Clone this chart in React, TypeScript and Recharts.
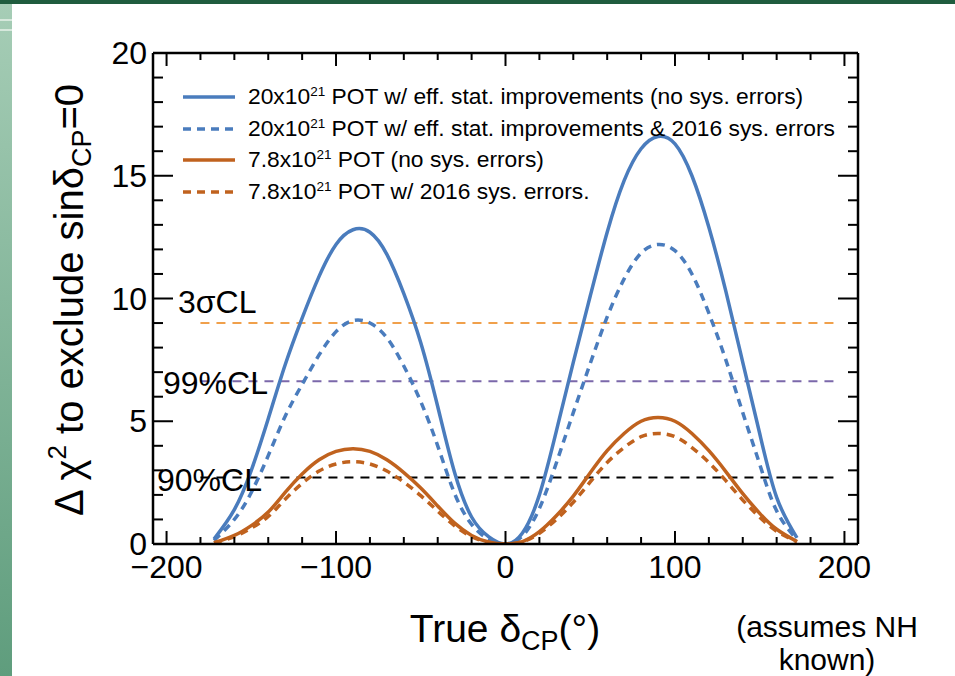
import React from 'react';
import { LineChart, Line, XAxis, YAxis, Legend } from 'recharts';

// true delta_CP (degrees)
const deltaCP = [-172, -160, -150, -140, -130, -120, -110, -100, -90, -80, -70, -60, -50, -40, -30, -20, -10, 0, 10, 20, 30, 40, 50, 60, 70, 80, 90, 100, 110, 120, 130, 140, 150, 160, 172];

// delta chi^2 to exclude sin(delta_CP)=0
const pot20NoSys = [0.2, 1.4, 3.0, 5.1, 7.3, 9.2, 10.9, 12.2, 12.8, 12.7, 11.8, 10.2, 8.2, 5.6, 2.9, 1.1, 0.3, 0, 0.45, 2.0, 4.6, 7.4, 10.1, 12.7, 14.8, 16.1, 16.6, 16.3, 15.0, 12.9, 10.3, 7.4, 4.5, 1.9, 0.25];
const pot20Sys2016 = [0.14, 1.0, 2.1, 3.6, 5.2, 6.5, 7.7, 8.65, 9.1, 9.0, 8.4, 7.25, 5.8, 4.0, 2.05, 0.8, 0.2, 0, 0.33, 1.45, 3.3, 5.35, 7.35, 9.25, 10.8, 11.85, 12.2, 11.95, 11.0, 9.4, 7.5, 5.35, 3.25, 1.35, 0.18];
const pot78NoSys = [0.05, 0.35, 0.75, 1.3, 2.1, 2.85, 3.43, 3.77, 3.88, 3.77, 3.43, 2.91, 2.28, 1.55, 0.85, 0.35, 0.08, 0, 0.1, 0.5, 1.15, 1.95, 2.9, 3.8, 4.5, 5.0, 5.15, 5.0, 4.5, 3.8, 2.95, 2.05, 1.25, 0.6, 0.1];
const pot78Sys2016 = [0.04, 0.3, 0.65, 1.12, 1.82, 2.47, 2.97, 3.26, 3.35, 3.26, 2.97, 2.52, 1.97, 1.34, 0.74, 0.3, 0.07, 0, 0.09, 0.44, 1.0, 1.7, 2.53, 3.32, 3.93, 4.37, 4.5, 4.37, 3.93, 3.32, 2.58, 1.79, 1.09, 0.52, 0.09];

// confidence level thresholds
const clLevels = [9, 6.63, 2.71];
const clColors = ['#f0a04b', '#7b68aa', '#000000'];
const clSpan = [-180, 196];

const xTicks = [-200, -180, -160, -140, -120, -100, -80, -60, -40, -20, 0, 20, 40, 60, 80, 100, 120, 140, 160, 180, 200];
const xMajor = [-200, -100, 0, 100, 200];
const yTicks = [0, 1, 2, 3, 4, 5, 6, 7, 8, 9, 10, 11, 12, 13, 14, 15, 16, 17, 18, 19, 20];
const yMajor = [0, 5, 10, 15, 20];

const data = deltaCP.map((x, i) => ({
  x,
  a: pot20NoSys[i],
  b: pot20Sys2016[i],
  c: pot78NoSys[i],
  d: pot78Sys2016[i],
}));

const BLUE = '#4a7cbd';
const ORANGE = '#c0621e';
const FONT = '"Liberation Sans", Arial, Helvetica, sans-serif';

const series = [
  { key: 'a', color: BLUE, dash: undefined, pre: '20x10', post: ' POT w/ eff. stat. improvements (no sys. errors)' },
  { key: 'b', color: BLUE, dash: '8 6', pre: '20x10', post: ' POT w/ eff. stat. improvements & 2016 sys. errors' },
  { key: 'c', color: ORANGE, dash: undefined, pre: '7.8x10', post: ' POT (no sys. errors)' },
  { key: 'd', color: ORANGE, dash: '8 6', pre: '7.8x10', post: ' POT w/ 2016 sys. errors.' },
];

const fmt = (v: number) => (v < 0 ? '\u2212' + Math.abs(v) : String(v));

const BottomTick = (props: any) => {
  const { x, y, payload } = props;
  const major = xMajor.includes(payload.value);
  return (
    <g>
      <line x1={x} x2={x} y1={y} y2={y - (major ? 13 : 7)} stroke="#000" strokeWidth={2} />
      {major && (
        <text x={x} y={y + 34} textAnchor="middle" fontSize={32} fontFamily={FONT} fill="#000">
          {fmt(payload.value)}
        </text>
      )}
    </g>
  );
};

const TopTick = (props: any) => {
  const { x, y, payload } = props;
  const major = xMajor.includes(payload.value);
  return <line x1={x} x2={x} y1={y} y2={y + (major ? 13 : 7)} stroke="#000" strokeWidth={2} />;
};

const LeftTick = (props: any) => {
  const { x, y, payload } = props;
  const major = yMajor.includes(payload.value);
  return (
    <g>
      <line x1={x} x2={x + (major ? 20 : 10)} y1={y} y2={y} stroke="#000" strokeWidth={2} />
      {major && (
        <text x={x - 6} y={y + 11} textAnchor="end" fontSize={32} fontFamily={FONT} fill="#000">
          {payload.value}
        </text>
      )}
    </g>
  );
};

const RightTick = (props: any) => {
  const { x, y, payload } = props;
  const major = yMajor.includes(payload.value);
  return <line x1={x} x2={x - (major ? 20 : 10)} y1={y} y2={y} stroke="#000" strokeWidth={2} />;
};

const LegendBox = () => (
  <div style={{ fontFamily: FONT, fontSize: 22.8, color: '#000', lineHeight: '31.5px' }}>
    {series.map((s) => (
      <div key={s.key} style={{ display: 'flex', alignItems: 'center', whiteSpace: 'nowrap' }}>
        <svg width={68} height={31} style={{ display: 'block' }}>
          <line x1={3} x2={55} y1={16} y2={16} stroke={s.color} strokeWidth={3.5} strokeDasharray={s.dash} />
        </svg>
        <span>
          {s.pre}
          <sup style={{ fontSize: 13.5, verticalAlign: 'top', lineHeight: '22px' }}>21</sup>
          {s.post}
        </span>
      </div>
    ))}
  </div>
);

export default function App() {
  return (
    <div style={{ position: 'absolute', left: 0, top: 0, width: 955, height: 676, background: '#fff', overflow: 'hidden' }}>
      {/* slide decoration */}
      <div style={{ position: 'absolute', left: 0, top: 0, width: 955, height: 4, background: '#1f5c3e' }} />
      <div style={{ position: 'absolute', left: 0, top: 4, width: 12, height: 672, background: 'linear-gradient(#a6cdb6, #5f9d7d)' }} />
      <div style={{ position: 'absolute', left: 0, top: 19, width: 12, height: 2, background: '#d6e8dc' }} />
      <div style={{ position: 'absolute', left: 0, top: 29, width: 12, height: 2, background: '#d6e8dc' }} />

      <div style={{ position: 'absolute', left: 0, top: 0 }}>
        <LineChart width={955} height={676} data={data} margin={{ top: 52, right: 0, bottom: 0, left: 0 }}>
          <XAxis
            xAxisId="bottom"
            dataKey="x"
            type="number"
            domain={[-208, 208]}
            allowDataOverflow
            ticks={xTicks}
            interval={0}
            height={132}
            tickSize={0}
            tickMargin={0}
            tickLine={false}
            axisLine={{ stroke: '#000', strokeWidth: 2.5 }}
            tick={<BottomTick />}
          />
          <XAxis
            xAxisId="top"
            orientation="top"
            dataKey="x"
            type="number"
            domain={[-208, 208]}
            allowDataOverflow
            ticks={xTicks}
            interval={0}
            height={1}
            tickSize={0}
            tickMargin={0}
            tickLine={false}
            axisLine={{ stroke: '#000', strokeWidth: 2.5 }}
            tick={<TopTick />}
          />
          <YAxis
            yAxisId="left"
            type="number"
            domain={[0, 20]}
            allowDataOverflow
            ticks={yTicks}
            interval={0}
            width={153}
            tickSize={0}
            tickMargin={0}
            tickLine={false}
            axisLine={{ stroke: '#000', strokeWidth: 2.5 }}
            tick={<LeftTick />}
          />
          <YAxis
            yAxisId="right"
            orientation="right"
            type="number"
            domain={[0, 20]}
            allowDataOverflow
            ticks={yTicks}
            interval={0}
            width={97}
            tickSize={0}
            tickMargin={0}
            tickLine={false}
            axisLine={{ stroke: '#000', strokeWidth: 2.5 }}
            tick={<RightTick />}
          />
          {clLevels.map((lvl, i) => (
            <Line
              key={'cl' + i}
              xAxisId="bottom"
              yAxisId="left"
              data={clSpan.map((x) => ({ x, y: lvl }))}
              dataKey="y"
              type="linear"
              stroke={clColors[i]}
              strokeWidth={2}
              strokeDasharray="9 7"
              dot={false}
              legendType="none"
              isAnimationActive={false}
            />
          ))}
          {series.map((s) => (
            <Line
              key={s.key}
              xAxisId="bottom"
              yAxisId="left"
              dataKey={s.key}
              type="natural"
              stroke={s.color}
              strokeWidth={3.5}
              strokeDasharray={s.dash}
              dot={false}
              isAnimationActive={false}
            />
          ))}
          <Legend
            layout="vertical"
            align="center"
            verticalAlign="middle"
            content={<LegendBox />}
            wrapperStyle={{ left: 180, top: 81, width: 'auto', height: 'auto' }}
          />
        </LineChart>
      </div>

      <svg width={955} height={676} style={{ position: 'absolute', left: 0, top: 0, pointerEvents: 'none' }} fontFamily={FONT}>
        <text x={178} y={313} fontSize={32}>3σCL</text>
        <text x={163} y={394} fontSize={32}>99%CL</text>
        <text x={157} y={491} fontSize={32}>90%CL</text>

        <text x={505} y={642} fontSize={39} textAnchor="middle">
          True δ<tspan fontSize={27} dy={8}>CP</tspan>
          <tspan dy={-8}>(°)</tspan>
        </text>

        <text transform="rotate(-90 83 300)" x={83} y={300} fontSize={40} textAnchor="middle">
          Δ χ<tspan fontSize={26} dy={-17}>2</tspan>
          <tspan dy={17}> to exclude sinδ</tspan>
          <tspan fontSize={27} dy={8}>CP</tspan>
          <tspan dy={-8}>=0</tspan>
        </text>

        <text x={827} y={637} fontSize={30} textAnchor="middle">(assumes NH</text>
        <text x={827} y={670} fontSize={30} textAnchor="middle">known)</text>
      </svg>
    </div>
  );
}
